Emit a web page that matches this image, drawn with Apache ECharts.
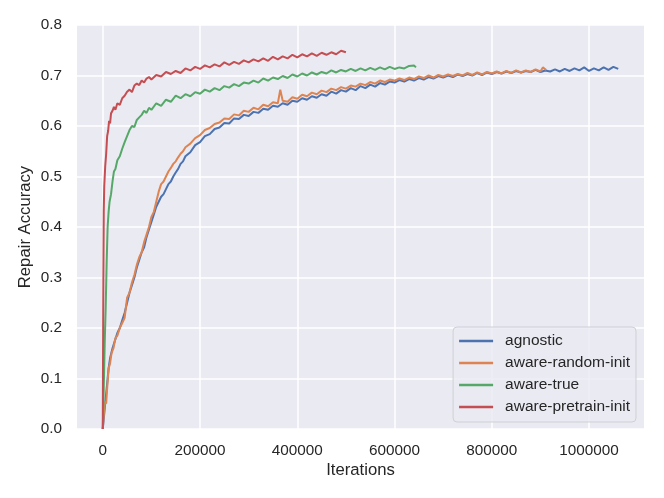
<!DOCTYPE html>
<html>
<head>
<meta charset="utf-8">
<script src="https://cdn.jsdelivr.net/npm/echarts@6/dist/echarts.min.js"></script>
<style>
  html, body { margin: 0; padding: 0; background: #fff; }
  #chart { width: 664px; height: 498px; }
</style>
</head>
<body>
<div id="chart"></div>
<script>
var seriesNames = ['agnostic', 'aware-random-init', 'aware-true', 'aware-pretrain-init'];
var colors = ['#4C72B0', '#DD8452', '#55A868', '#C44E52'];
var yTicks = [0, 0.1, 0.2, 0.3, 0.4, 0.5, 0.6, 0.7, 0.8];

// [iterations, repair accuracy]
var agnostic = [[0,0],[3000,0.03],[6000,0.06],[9000,0.09],[12000,0.12],[15000,0.14],[20000,0.16],[25000,0.175],[30000,0.19],[35000,0.2],[40000,0.215],[45000,0.23],[50000,0.25],[55000,0.27],[60000,0.285],[65000,0.3],[70000,0.32],[75000,0.335],[80000,0.35],[85000,0.36],[90000,0.38],[95000,0.395],[100000,0.41],[105000,0.425],[110000,0.44],[115000,0.45],[120000,0.46],[125000,0.465],[130000,0.475],[135000,0.485],[140000,0.49],[145000,0.5],[150000,0.508],[155000,0.515],[160000,0.525],[165000,0.53],[170000,0.54],[180000,0.548],[190000,0.562],[200000,0.568],[210000,0.58],[220000,0.584],[230000,0.594],[240000,0.597],[250000,0.606],[260000,0.605],[270000,0.615],[280000,0.614],[290000,0.622],[300000,0.62],[310000,0.628],[320000,0.626],[330000,0.634],[340000,0.632],[350000,0.64],[360000,0.638],[370000,0.645],[380000,0.642],[390000,0.65],[400000,0.648],[410000,0.655],[420000,0.652],[430000,0.659],[440000,0.656],[450000,0.663],[460000,0.66],[470000,0.668],[480000,0.664],[490000,0.671],[500000,0.668],[510000,0.675],[520000,0.671],[530000,0.679],[540000,0.675],[550000,0.682],[560000,0.678],[570000,0.685],[580000,0.682],[590000,0.688],[600000,0.686],[610000,0.691],[620000,0.688],[630000,0.693],[640000,0.69],[650000,0.695],[660000,0.692],[670000,0.697],[680000,0.694],[690000,0.699],[700000,0.696],[710000,0.7],[720000,0.697],[730000,0.702],[740000,0.699],[750000,0.703],[760000,0.7],[770000,0.705],[780000,0.701],[790000,0.706],[800000,0.703],[810000,0.707],[820000,0.704],[830000,0.708],[840000,0.705],[850000,0.709],[860000,0.706],[870000,0.709],[880000,0.707],[890000,0.711],[900000,0.707],[910000,0.71],[920000,0.708],[930000,0.712],[940000,0.708],[950000,0.713],[960000,0.709],[970000,0.714],[980000,0.71],[990000,0.716],[1000000,0.709],[1010000,0.714],[1020000,0.71],[1030000,0.716],[1040000,0.711],[1050000,0.717],[1060000,0.713]];

var awareRandomInit = [[0,0],[3000,0.04],[5000,0.055],[7000,0.05],[9000,0.08],[12000,0.12],[15000,0.13],[18000,0.15],[22000,0.16],[26000,0.18],[30000,0.185],[35000,0.2],[40000,0.21],[45000,0.22],[50000,0.26],[55000,0.27],[60000,0.29],[65000,0.305],[70000,0.325],[75000,0.34],[80000,0.35],[85000,0.37],[90000,0.385],[95000,0.4],[100000,0.42],[105000,0.43],[110000,0.45],[115000,0.47],[120000,0.485],[125000,0.49],[130000,0.5],[135000,0.51],[140000,0.517],[145000,0.525],[150000,0.53],[155000,0.538],[160000,0.545],[165000,0.55],[170000,0.558],[180000,0.565],[190000,0.576],[200000,0.582],[210000,0.592],[220000,0.596],[230000,0.604],[240000,0.607],[250000,0.615],[260000,0.614],[270000,0.623],[280000,0.621],[290000,0.63],[300000,0.628],[310000,0.636],[320000,0.633],[330000,0.642],[340000,0.639],[350000,0.647],[360000,0.645],[365000,0.672],[370000,0.65],[380000,0.648],[390000,0.657],[400000,0.654],[410000,0.662],[420000,0.659],[430000,0.666],[440000,0.663],[450000,0.67],[460000,0.667],[470000,0.674],[480000,0.671],[490000,0.677],[500000,0.674],[510000,0.68],[520000,0.678],[530000,0.684],[540000,0.681],[550000,0.687],[560000,0.684],[570000,0.69],[580000,0.687],[590000,0.692],[600000,0.69],[610000,0.694],[620000,0.691],[630000,0.696],[640000,0.693],[650000,0.698],[660000,0.695],[670000,0.7],[680000,0.696],[690000,0.701],[700000,0.698],[710000,0.702],[720000,0.699],[730000,0.703],[740000,0.7],[750000,0.705],[760000,0.701],[770000,0.706],[780000,0.702],[790000,0.707],[800000,0.704],[810000,0.708],[820000,0.704],[830000,0.709],[840000,0.705],[850000,0.71],[860000,0.706],[870000,0.71],[880000,0.707],[890000,0.712],[900000,0.708],[905000,0.716],[912000,0.711]];

var awareTrue = [[0,0],[2000,0.08],[4000,0.17],[6000,0.24],[8000,0.33],[10000,0.4],[12000,0.43],[14000,0.45],[17000,0.465],[20000,0.49],[23000,0.51],[26000,0.515],[30000,0.532],[35000,0.54],[40000,0.555],[45000,0.568],[50000,0.58],[55000,0.592],[60000,0.6],[65000,0.598],[70000,0.612],[75000,0.617],[80000,0.622],[85000,0.63],[90000,0.626],[95000,0.636],[100000,0.632],[110000,0.645],[120000,0.64],[130000,0.652],[140000,0.648],[150000,0.66],[160000,0.655],[170000,0.663],[180000,0.659],[190000,0.667],[200000,0.664],[210000,0.672],[220000,0.668],[230000,0.675],[240000,0.671],[250000,0.679],[260000,0.676],[270000,0.683],[280000,0.679],[290000,0.686],[300000,0.684],[310000,0.69],[320000,0.686],[330000,0.694],[340000,0.69],[350000,0.696],[360000,0.693],[370000,0.699],[380000,0.695],[390000,0.702],[400000,0.698],[410000,0.704],[420000,0.7],[430000,0.706],[440000,0.702],[450000,0.707],[460000,0.704],[470000,0.71],[480000,0.706],[490000,0.711],[500000,0.708],[510000,0.713],[520000,0.709],[530000,0.714],[540000,0.71],[550000,0.715],[560000,0.711],[570000,0.716],[580000,0.712],[590000,0.717],[600000,0.713],[610000,0.716],[620000,0.714],[630000,0.719],[640000,0.72],[644000,0.716]];

var awarePretrainInit = [[0,0],[1000,0.26],[2000,0.43],[3000,0.48],[5000,0.52],[7000,0.545],[9000,0.58],[11000,0.59],[13000,0.61],[15000,0.605],[17000,0.625],[20000,0.63],[23000,0.638],[26000,0.632],[30000,0.645],[35000,0.642],[40000,0.655],[45000,0.66],[50000,0.668],[55000,0.672],[60000,0.667],[65000,0.68],[70000,0.684],[75000,0.681],[80000,0.69],[85000,0.686],[90000,0.694],[95000,0.697],[100000,0.692],[110000,0.701],[120000,0.698],[130000,0.707],[140000,0.703],[150000,0.709],[160000,0.705],[170000,0.714],[180000,0.71],[190000,0.717],[200000,0.713],[210000,0.72],[220000,0.716],[230000,0.722],[240000,0.718],[250000,0.726],[260000,0.721],[270000,0.727],[280000,0.723],[290000,0.73],[300000,0.726],[310000,0.732],[320000,0.728],[330000,0.734],[340000,0.729],[350000,0.737],[360000,0.732],[370000,0.738],[380000,0.734],[390000,0.741],[400000,0.736],[410000,0.742],[420000,0.738],[430000,0.744],[440000,0.739],[450000,0.745],[460000,0.741],[470000,0.746],[480000,0.742],[490000,0.749],[500000,0.746]];

var allData = [agnostic, awareRandomInit, awareTrue, awarePretrainInit];

var myChart = echarts.init(document.getElementById('chart'));
var font = '"Liberation Sans", Arial, sans-serif';
var textColor = '#262626';

var series = [];
for (var i = 0; i < seriesNames.length; i++) {
    series.push({
        name: seriesNames[i],
        type: 'line',
        data: allData[i],
        showSymbol: false,
        symbol: 'none',
        animation: false,
        lineStyle: { color: colors[i], width: 2 },
        itemStyle: { color: colors[i] },
        z: 2 + i
    });
}

var option = {
    backgroundColor: '#ffffff',
    animation: false,
    grid: {
        left: 77, right: 20, top: 25, bottom: 69,
        show: true,
        backgroundColor: '#EAEAF2',
        borderWidth: 0
    },
    legend: {
        orient: 'vertical',
        right: 28,
        top: 327,
        padding: [6, 6, 7, 6],
        itemGap: 6,
        itemWidth: 34,
        itemHeight: 2.5,
        icon: 'rect',
        backgroundColor: 'rgba(234,234,242,0.8)',
        borderColor: '#cfcfd6',
        borderWidth: 1,
        borderRadius: 4,
        textStyle: { fontFamily: font, fontSize: 15.5, color: textColor, lineHeight: 16, padding: [0, 0, 0, 7] },
        data: seriesNames
    },
    xAxis: {
        type: 'value',
        min: -53000,
        max: 1113000,
        splitNumber: 5,
        name: 'Iterations',
        nameLocation: 'middle',
        nameGap: 33,
        nameMoveOverlap: false,
        nameTextStyle: { fontFamily: font, fontSize: 16.7, color: textColor },
        axisLine: { show: false },
        axisTick: { show: false },
        axisLabel: {
            margin: 14,
            fontFamily: font, fontSize: 15.3, color: textColor,
            showMinLabel: false, showMaxLabel: false,
            formatter: function (v) { return v % 200000 === 0 ? String(v) : ''; }
        },
        splitLine: { show: true, showMinLine: false, showMaxLine: false, lineStyle: { color: '#ffffff', width: 1.5 } }
    },
    yAxis: {
        type: 'value',
        min: yTicks[0],
        max: yTicks[yTicks.length - 1],
        interval: 0.1,
        name: 'Repair Accuracy',
        nameLocation: 'middle',
        nameGap: 43,
        nameMoveOverlap: false,
        nameTextStyle: { fontFamily: font, fontSize: 16.7, color: textColor },
        axisLine: { show: false },
        axisTick: { show: false },
        axisLabel: {
            margin: 15,
            fontFamily: font, fontSize: 15.3, color: textColor,
            formatter: function (v) { return v.toFixed(1); }
        },
        splitLine: { show: true, lineStyle: { color: '#ffffff', width: 1.5 } }
    },
    series: series
};

myChart.setOption(option);
window.addEventListener('resize', function () {
    myChart.resize();
});
</script>
</body>
</html>
